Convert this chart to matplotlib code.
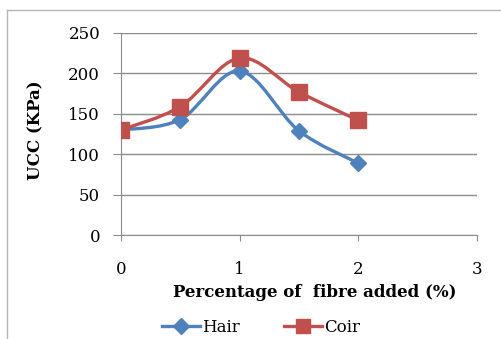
import numpy as np
import matplotlib.pyplot as plt
from matplotlib.path import Path
from matplotlib.patches import PathPatch
from matplotlib.lines import Line2D

# data
fibre = [0, 0.5, 1, 1.5, 2]
hair = [130, 143, 203, 129, 89]
coir = [130, 159, 219, 177, 142]

blue = '#4F81BD'
red = '#C0504D'

plt.rcParams['font.family'] = ['DejaVu Serif']


def smooth_path(x, y):
    # Catmull-Rom style bezier through the points (like Excel "smoothed line")
    x = np.asarray(x, float)
    y = np.asarray(y, float)
    n = len(x)
    verts = [(x[0], y[0])]
    codes = [Path.MOVETO]
    for i in range(n - 1):
        p0 = (x[max(i - 1, 0)], y[max(i - 1, 0)])
        p1 = (x[i], y[i])
        p2 = (x[i + 1], y[i + 1])
        p3 = (x[min(i + 2, n - 1)], y[min(i + 2, n - 1)])
        c1 = (p1[0] + (p2[0] - p0[0]) / 6, p1[1] + (p2[1] - p0[1]) / 6)
        c2 = (p2[0] - (p3[0] - p1[0]) / 6, p2[1] - (p3[1] - p1[1]) / 6)
        verts += [c1, c2, p2]
        codes += [Path.CURVE4] * 3
    return Path(verts, codes)


fig = plt.figure(figsize=(5.02, 3.39), dpi=100)
ax = fig.add_axes([0.241, 0.306, 0.709, 0.597])

for ys, col, mk, ms in [(hair, blue, 'D', 8), (coir, red, 's', 11)]:
    ax.add_patch(PathPatch(smooth_path(fibre, ys), fill=False, edgecolor=col,
                           lw=2.4, zorder=3, capstyle='round'))
    ax.plot(fibre, ys, linestyle='none', marker=mk, ms=ms, color=col, zorder=4)

ax.set_xlim(0, 3)
ax.set_ylim(0, 250)
ax.set_xticks([0, 1, 2, 3])
ax.set_yticks(range(0, 251, 50))
ax.grid(axis='y', color='#8c8c8c', lw=1)
ax.set_axisbelow(True)
for s in ['top', 'right']:
    ax.spines[s].set_visible(False)
for s in ['left', 'bottom']:
    ax.spines[s].set_color('#8c8c8c')
ax.tick_params(axis='both', colors='#8c8c8c', labelcolor='black', labelsize=12,
               direction='out')
ax.tick_params(axis='x', length=4.5, pad=14)
ax.tick_params(axis='y', length=6, pad=9)

ax.set_xlabel('Percentage of  fibre added (%)', fontsize=12, fontweight='bold')
ax.xaxis.set_label_coords(0.545, -0.24)
ax.set_ylabel('UCC (KPa)', fontsize=12, fontweight='bold')
ax.yaxis.set_label_coords(-0.214, 0.52)

handles = [Line2D([], [], color=blue, lw=2.4, marker='D', ms=8),
           Line2D([], [], color=red, lw=2.4, marker='s', ms=10)]
fig.legend(handles, ['Hair', 'Coir'], loc='center', bbox_to_anchor=(0.52, 0.035),
           ncol=2, frameon=False, fontsize=12, handlelength=2.3, handletextpad=0.15,
           columnspacing=2.6)

# outer chart frame
fig.add_artist(Line2D([7 / 502, 1], [1 - 10 / 339] * 2, color='#b5b5b5', lw=1,
                      transform=fig.transFigure))
fig.add_artist(Line2D([7 / 502] * 2, [0, 1 - 10 / 339], color='#b5b5b5', lw=1,
                      transform=fig.transFigure))

fig.savefig('out.png', dpi=100)
